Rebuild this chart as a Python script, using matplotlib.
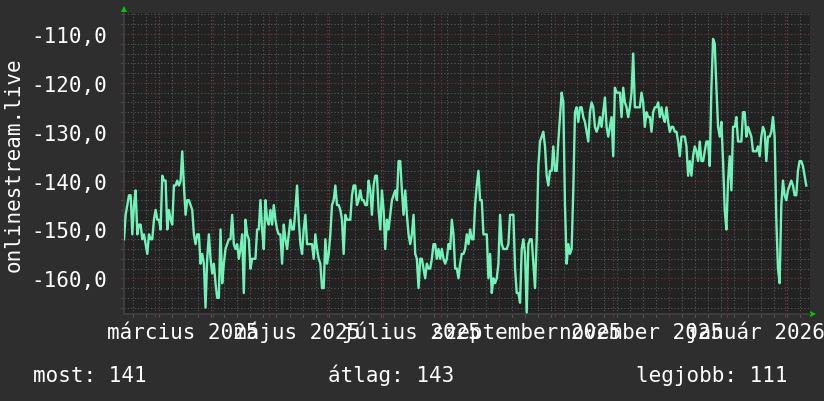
import matplotlib
matplotlib.use('Agg')
import matplotlib.pyplot as plt
import matplotlib.dates as mdates
import matplotlib.transforms as mtransforms
from matplotlib.ticker import MultipleLocator, FuncFormatter
import numpy as np
import pandas as pd

# daily rank of the site (plotted as negative numbers, like the rrd graph)
rank = [
    152, 147, 145, 143, 143, 151, 145, 142, 151, 149,
    149, 152, 151, 153, 155, 151, 152, 152, 148, 146,
    148, 148, 150, 139, 140, 140, 150, 146, 148, 149,
    141, 141, 140, 141, 140, 134, 141, 147, 144, 144,
    145, 146, 151, 153, 151, 151, 157, 155, 157, 166,
    156, 151, 156, 159, 157, 161, 164, 164, 150, 161,
    157, 154, 153, 152, 152, 147, 153, 154, 153, 156,
    154, 151, 163, 148, 151, 152, 158, 156, 156, 156,
    150, 150, 144, 150, 154, 144, 148, 149, 146, 149,
    145, 148, 150, 151, 151, 157, 149, 152, 154, 151,
    148, 150, 150, 146, 141, 148, 153, 155, 150, 147,
    153, 153, 153, 153, 156, 151, 154, 156, 157, 162,
    162, 152, 157, 155, 151, 145, 144, 141, 145, 145,
    146, 148, 155, 147, 148, 148, 148, 143, 141,
    141, 145, 144, 142, 144, 144, 145, 145, 140, 142,
    147, 141, 139, 139, 146, 150, 142, 146, 154, 148,
    150, 147, 144, 143, 142, 144, 136, 136, 142, 147,
    142, 147, 151, 153, 151, 147, 155, 156, 162, 156,
    156, 158, 160, 157, 158, 158, 156, 153, 153, 156,
    154, 156, 154, 156, 157, 156, 153, 154, 148, 151,
    158, 158, 160, 157, 155, 155, 154, 151,
    153, 150, 152, 152, 145, 141, 138, 144, 144, 151,
    151, 151, 160, 155, 163, 160, 161, 160, 157, 147,
    153, 154, 154, 154, 153, 147, 147, 147, 158, 163,
    163, 165, 154, 152, 155, 167, 153, 152, 152, 157,
    162, 152, 137, 132, 131, 130, 133, 139, 141, 138,
    138, 133, 138, 138, 132, 127, 122, 124, 145, 157,
    153, 155, 154, 142, 126, 125, 128, 125, 125,
    127, 128, 130, 132, 126, 124, 125, 129, 130, 129,
    127, 129, 126, 123, 129, 131, 129, 127, 135, 121,
    122, 122, 122, 127, 121, 124, 125, 127, 125, 122,
    114, 125, 125, 125, 125, 122, 124, 129, 126, 127,
    127, 130, 126, 125, 125, 124, 127, 125, 127, 128,
    125, 128, 130, 129, 129, 130, 130, 132, 135, 131,
    131, 131, 133, 139, 136, 139, 135, 133,
    134, 136, 132, 136, 136, 134, 132, 132, 137, 121,
    111, 112, 121, 129, 131, 128, 136, 146, 150, 140,
    135, 142, 129, 129, 127, 132, 132, 132, 126, 126,
    131, 129, 130, 131, 134, 134, 134, 133, 135, 131,
    129, 130, 136, 131, 131, 130, 127, 131, 148, 158,
    161, 145, 140, 143, 144, 142, 141, 140, 141, 143,
    143, 138, 136, 136, 137, 139, 141,
]

data_start = '2025-02-12 10:00'
data_end = '2026-02-12 10:00'
view_start = '2025-02-12 10:00'
view_end = '2026-02-14 10:00'

label_months = ['2025-03-01', '2025-05-01', '2025-07-01',
                '2025-09-01', '2025-11-01', '2026-01-01']
label_texts = ['március 2025', 'május 2025', 'július 2025',
               'szeptember 2025', 'november 2025', 'január 2026']

legend_names = ['most', 'átlag', 'legjobb']
legend_values = [141, 143, 111]

ylabel = 'onlinestream.live'

# ---------------------------------------------------------------
bg = '#2e2e2e'
canvas = '#222222'
minor_c = '#585858'
major_c = '#7a3535'
line_c = '#72f2b8'
font = 'DejaVu Sans Mono'
fs = 15

W, H = 824, 402
fig = plt.figure(figsize=(W / 100, H / 100), dpi=100, facecolor=bg)
ax = fig.add_axes([124 / W, 1 - 315 / H, 686 / W, 301 / H])
ax.set_facecolor(canvas)

times = pd.date_range(data_start, data_end, periods=len(rank))
values = -np.array(rank, dtype=float)
ax.plot(times, values, color=line_c, lw=1.7, zorder=3)

ax.set_xlim(pd.Timestamp(view_start), pd.Timestamp(view_end))
ax.set_ylim(-167.3, -105.7)

ax.xaxis.set_major_locator(mdates.MonthLocator())
ax.xaxis.set_minor_locator(mdates.WeekdayLocator(byweekday=mdates.MO))
ax.yaxis.set_major_locator(MultipleLocator(10))
ax.yaxis.set_minor_locator(MultipleLocator(2))
ax.yaxis.set_major_formatter(FuncFormatter(lambda v, p: f'{v:.1f}'.replace('.', ',')))

ax.set_axisbelow(True)
ax.grid(which='minor', color=minor_c, ls=(0, (1, 2)), lw=0.8)
ax.grid(which='major', color=major_c, ls=(0, (1, 2)), lw=0.8)

ax.tick_params(axis='x', which='both', labelbottom=False, length=2.5, width=0.8)
ax.tick_params(axis='x', which='major', color=major_c)
ax.tick_params(axis='x', which='minor', color=minor_c)
ax.tick_params(axis='y', which='major', length=2.5, width=0.8, color=major_c,
               labelcolor='white', labelsize=fs, pad=10)
ax.tick_params(axis='y', which='minor', length=2.5, width=0.8, color=minor_c)
for lab in ax.get_yticklabels():
    lab.set_fontfamily(font)

for s in ['top', 'right']:
    ax.spines[s].set_visible(False)
for s in ['left', 'bottom']:
    ax.spines[s].set_color('#3c3c3c')
    ax.spines[s].set_linewidth(1.5)

# month labels, centred half a month after the month start (rrdtool style)
trans = mtransforms.blended_transform_factory(ax.transData, ax.transAxes)
for m, t in zip(label_months, label_texts):
    x = mdates.date2num(pd.Timestamp(m) + pd.Timedelta(days=15))
    ax.text(x, -0.08, t, transform=trans, ha='center', va='baseline',
            color='white', fontsize=fs, family=font)

# axis arrows
ax.plot([0], [1.012], marker='^', color='#00cc00', ms=4.5, transform=ax.transAxes,
        clip_on=False, mew=0)
ax.plot([1.004], [0.0], marker='>', color='#00cc00', ms=4.5, transform=ax.transAxes,
        clip_on=False, mew=0)

fig.text(14 / W, 1 - 165 / H, ylabel, rotation=90, ha='center', va='center',
         color='white', fontsize=fs, family=font)

legend_x = [33, 328, 636]
for x, name, val in zip(legend_x, legend_names, legend_values):
    fig.text(x / W, 1 - 382 / H, f'{name}: {val}', ha='left', va='baseline',
             color='white', fontsize=fs, family=font)

fig.savefig('out.png', dpi=100, facecolor=bg)
